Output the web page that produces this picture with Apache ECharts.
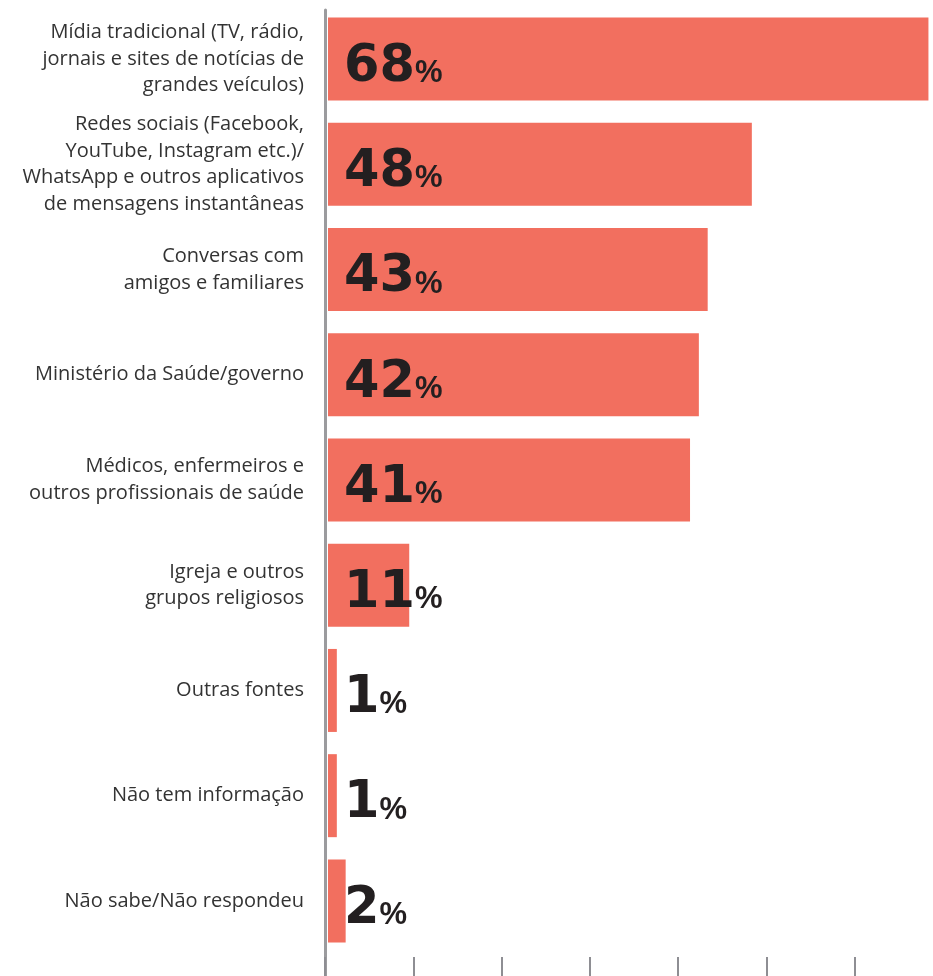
<!DOCTYPE html>
<html>
<head>
<meta charset="utf-8">
<script src="https://cdn.jsdelivr.net/npm/echarts@6/dist/echarts.min.js"></script>
<style>
html,body{margin:0;padding:0;background:#fff;}
#main{width:933px;height:976px;}
</style>
</head>
<body>
<div id="main"></div>
<script>
var categories = [
	'Mídia tradicional (TV, rádio,\njornais e sites de notícias de\ngrandes veículos)',
	'Redes sociais (Facebook,\nYouTube, Instagram etc.)/\nWhatsApp e outros aplicativos\nde mensagens instantâneas',
	'Conversas com\namigos e familiares',
	'Ministério da Saúde/governo',
	'Médicos, enfermeiros e\noutros profissionais de saúde',
	'Igreja e outros\ngrupos religiosos',
	'Outras fontes',
	'Não tem informação',
	'Não sabe/Não respondeu'
];
// comprimento das barras como aparece no gráfico
var values = [68, 48, 43, 42, 41, 9.2, 1, 1, 2];
// números impressos nas barras
var labels = [68, 48, 43, 42, 41, 11, 1, 1, 2];
var tickStep = 10;

var myChart = echarts.init(document.getElementById('main'));

// 10 pontos = 88.3px
var pxPerPoint = 8.83;

var option = {
	backgroundColor: '#fff',
	animation: false,
	grid: [
		// barras
		{left: 328, width: 68 * pxPerPoint, top: 6.5, height: 947},
		// eixo com a linha vertical e os ticks de baixo
		{left: 325, width: 60 * pxPerPoint, top: 10, bottom: 0}
	],
	xAxis: [
		{
			gridIndex: 0, type: 'value', min: 0, max: 68,
			axisLine: {show: false}, axisTick: {show: false},
			axisLabel: {show: false}, splitLine: {show: false}
		},
		{
			gridIndex: 1, type: 'value', min: 0, max: 60, interval: tickStep,
			axisLine: {show: false},
			axisTick: {show: true, inside: true, length: 19, lineStyle: {color: '#8e8e93', width: 2}},
			axisLabel: {show: false}, splitLine: {show: false}
		}
	],
	yAxis: [
		{
			gridIndex: 0, type: 'category', data: categories, inverse: true,
			axisLine: {show: false}, axisTick: {show: false},
			axisLabel: {
				margin: 24, align: 'right', color: '#333',
				fontFamily: 'Open Sans', fontSize: 20, lineHeight: 26.5
			}
		},
		{
			gridIndex: 1, type: 'category', data: [''],
			axisLine: {show: true, lineStyle: {color: '#9b9b9e', width: 3}},
			axisTick: {show: false}, axisLabel: {show: false}
		}
	],
	series: [{
		type: 'bar',
		xAxisIndex: 0, yAxisIndex: 0,
		data: values,
		barWidth: 83,
		itemStyle: {color: '#f26f5f'},
		label: {
			show: true,
			position: 'insideLeft',
			distance: 16,
			offset: [0, 8],
			formatter: function(p){ return '{n|' + labels[p.dataIndex] + '}{p|%}'; },
			rich: {
				n: {fontFamily: 'DejaVu Sans', fontWeight: 'bold', fontSize: 51, lineHeight: 52, color: '#231f20', verticalAlign: 'bottom'},
				p: {fontFamily: 'Liberation Sans', fontWeight: 'bold', fontSize: 31, lineHeight: 31, color: '#231f20', verticalAlign: 'bottom', padding: [0, 0, 4, 0]}
			}
		}
	}]
};

myChart.setOption(option);
</script>
</body>
</html>
